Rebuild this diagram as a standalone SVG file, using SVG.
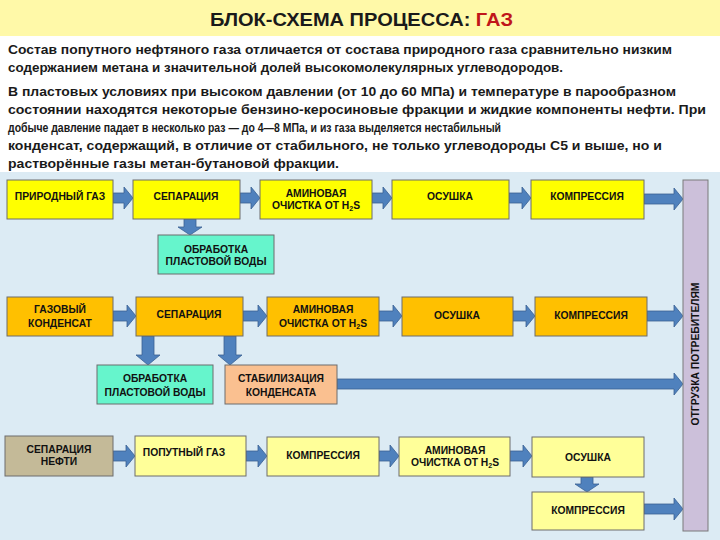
<svg xmlns="http://www.w3.org/2000/svg" width="720" height="540" viewBox="0 0 720 540">
<defs>
<style>
.bg-band{fill:#FFF9A8}
.para{font-family:"Liberation Sans",Arial,sans-serif;font-weight:bold;font-size:12.5px;fill:#1a1a1a}
.title{font-family:"Liberation Sans",Arial,sans-serif;font-weight:bold;font-size:19px;fill:#1a1a1a}
.box{stroke:#6d6d6d;stroke-width:1}
.y{fill:#FFFF00}
.o{fill:#FFC000}
.ly{fill:#FFFF99}
.t{fill:#66F5CC}
.p{fill:#FAC090}
.tan{fill:#C4BA98}
.bar{fill:#CCC0DA;stroke:#7a7a7a;stroke-width:1}
.lbl{font-family:"Liberation Sans",Arial,sans-serif;font-weight:bold;font-size:10.3px;fill:#111;text-anchor:middle}
.sub{font-size:7px}
.arr{fill:#4F81BD;stroke:#3A6193;stroke-width:0.8}
</style>
</defs>
<rect x="0" y="0" width="720" height="540" fill="#ffffff"/>
<rect class="bg-band" x="0" y="0" width="720" height="36"/>
<rect x="0" y="172" width="720" height="368" fill="#DCEBF4"/>
<text class="title" x="210" y="26" textLength="303" lengthAdjust="spacingAndGlyphs">БЛОК-СХЕМА ПРОЦЕССА: <tspan fill="#C0161A">ГАЗ</tspan></text>
<g id="text">
<text class="para" x="8" y="54" textLength="664" lengthAdjust="spacingAndGlyphs">Состав попутного нефтяного газа отличается от состава природного газа сравнительно низким</text>
<text class="para" x="8" y="72" textLength="555" lengthAdjust="spacingAndGlyphs">содержанием метана и значительной долей высокомолекулярных углеводородов.</text>
<text class="para" x="8" y="96" textLength="668" lengthAdjust="spacingAndGlyphs">В пластовых условиях при высоком давлении (от 10 до 60 МПа) и температуре в парообразном</text>
<text class="para" x="8" y="114" textLength="698" lengthAdjust="spacingAndGlyphs">состоянии находятся некоторые бензино-керосиновые  фракции и жидкие компоненты нефти. При</text>
<text class="para" x="8" y="132" textLength="493" lengthAdjust="spacingAndGlyphs">добыче давление падает в несколько раз — до 4—8 МПа, и из газа выделяется нестабильный</text>
<text class="para" x="8" y="150" textLength="654" lengthAdjust="spacingAndGlyphs">конденсат, содержащий, в отличие от стабильного, не только углеводороды С5 и выше, но и</text>
<text class="para" x="8" y="168" textLength="331" lengthAdjust="spacingAndGlyphs">растворённые газы метан-бутановой фракции.</text>
</g>
<g id="connectors">
<path class="arr" d="M113,193 H124 V187 L133,198 L124,209 V203 H113 Z"/>
<path class="arr" d="M240,193 H251 V187 L260,198 L251,209 V203 H240 Z"/>
<path class="arr" d="M372,193 H383 V187 L392,198 L383,209 V203 H372 Z"/>
<path class="arr" d="M509,193 H522 V187 L531,198 L522,209 V203 H509 Z"/>
<path class="arr" d="M644,194 H674 V188 L683,199 L674,210 V204 H644 Z"/>
<path class="arr" d="M184,219 V227 H178 L190,235 L202,227 H196 V219 Z"/>
<path class="arr" d="M113,311 H127 V305 L136,316 L127,327 V321 H113 Z"/>
<path class="arr" d="M243,311 H258 V305 L267,316 L258,327 V321 H243 Z"/>
<path class="arr" d="M379,311 H393 V305 L402,316 L393,327 V321 H379 Z"/>
<path class="arr" d="M513,311 H526 V305 L535,316 L526,327 V321 H513 Z"/>
<path class="arr" d="M647,311 H674 V305 L683,316 L674,327 V321 H647 Z"/>
<path class="arr" d="M142,336 V355 H136 L148,365 L160,355 H154 V336 Z"/>
<path class="arr" d="M224,336 V355 H218 L230,365 L242,355 H236 V336 Z"/>
<path class="arr" d="M337,379 H674 V373 L683,384 L674,395 V389 H337 Z"/>
<path class="arr" d="M113,451 H126 V445 L135,456 L126,467 V461 H113 Z"/>
<path class="arr" d="M246,451 H258 V445 L267,456 L258,467 V461 H246 Z"/>
<path class="arr" d="M379,451 H390 V445 L399,456 L390,467 V461 H379 Z"/>
<path class="arr" d="M510,451 H523 V445 L532,456 L523,467 V461 H510 Z"/>
<path class="arr" d="M581,477 V484 H575 L587,492 L599,484 H593 V477 Z"/>
<path class="arr" d="M644,504 H674 V498 L683,509 L674,520 V514 H644 Z"/>
</g>
<g id="n-prirodny">
<rect class="box y" x="7" y="180" width="106" height="39"/>
<text class="lbl" x="60" y="200">ПРИРОДНЫЙ ГАЗ</text>
</g>
<g id="n-separ1">
<rect class="box y" x="133" y="180" width="107" height="39"/>
<text class="lbl" x="186" y="200">СЕПАРАЦИЯ</text>
</g>
<g id="n-amine1">
<rect class="box y" x="260" y="180" width="112" height="39"/>
<text class="lbl" x="316" y="197">АМИНОВАЯ</text>
<text class="lbl" x="316" y="209">ОЧИСТКА ОТ H<tspan class="sub" dy="2">2</tspan><tspan dy="-2">S</tspan></text>
</g>
<g id="n-osushka1">
<rect class="box y" x="392" y="180" width="117" height="39"/>
<text class="lbl" x="450" y="200">ОСУШКА</text>
</g>
<g id="n-kompr1">
<rect class="box y" x="531" y="180" width="113" height="39"/>
<text class="lbl" x="587" y="200">КОМПРЕССИЯ</text>
</g>
<g id="n-voda1">
<rect class="box t" x="158" y="235" width="116" height="39"/>
<text class="lbl" x="216" y="253">ОБРАБОТКА</text>
<text class="lbl" x="216" y="265">ПЛАСТОВОЙ ВОДЫ</text>
</g>
<g id="n-kondensat">
<rect class="box o" x="7" y="297" width="106" height="39"/>
<text class="lbl" x="60" y="313">ГАЗОВЫЙ</text>
<text class="lbl" x="60" y="327">КОНДЕНСАТ</text>
</g>
<g id="n-separ2">
<rect class="box o" x="136" y="297" width="107" height="39"/>
<text class="lbl" x="189" y="318">СЕПАРАЦИЯ</text>
</g>
<g id="n-amine2">
<rect class="box o" x="267" y="297" width="112" height="39"/>
<text class="lbl" x="323" y="313">АМИНОВАЯ</text>
<text class="lbl" x="323" y="327">ОЧИСТКА ОТ H<tspan class="sub" dy="2">2</tspan><tspan dy="-2">S</tspan></text>
</g>
<g id="n-osushka2">
<rect class="box o" x="402" y="297" width="111" height="39"/>
<text class="lbl" x="457" y="319">ОСУШКА</text>
</g>
<g id="n-kompr2">
<rect class="box o" x="535" y="297" width="112" height="39"/>
<text class="lbl" x="591" y="319">КОМПРЕССИЯ</text>
</g>
<g id="n-voda2">
<rect class="box t" x="97" y="365" width="116" height="39"/>
<text class="lbl" x="155" y="382">ОБРАБОТКА</text>
<text class="lbl" x="155" y="396">ПЛАСТОВОЙ ВОДЫ</text>
</g>
<g id="n-stab">
<rect class="box p" x="225" y="365" width="112" height="39"/>
<text class="lbl" x="281" y="382">СТАБИЛИЗАЦИЯ</text>
<text class="lbl" x="281" y="396">КОНДЕНСАТА</text>
</g>
<g id="n-separ-nefti">
<rect class="box tan" x="5" y="436" width="108" height="40"/>
<text class="lbl" x="59" y="453">СЕПАРАЦИЯ</text>
<text class="lbl" x="59" y="465">НЕФТИ</text>
</g>
<g id="n-poputny">
<rect class="box ly" x="135" y="436" width="111" height="40"/>
<text class="lbl" x="184" y="456">ПОПУТНЫЙ ГАЗ</text>
</g>
<g id="n-kompr3a">
<rect class="box ly" x="267" y="437" width="112" height="39"/>
<text class="lbl" x="323" y="459">КОМПРЕССИЯ</text>
</g>
<g id="n-amine3">
<rect class="box ly" x="399" y="437" width="111" height="39"/>
<text class="lbl" x="455" y="454">АМИНОВАЯ</text>
<text class="lbl" x="455" y="466">ОЧИСТКА ОТ H<tspan class="sub" dy="2">2</tspan><tspan dy="-2">S</tspan></text>
</g>
<g id="n-osushka3">
<rect class="box ly" x="532" y="437" width="112" height="40"/>
<text class="lbl" x="588" y="461">ОСУШКА</text>
</g>
<g id="n-kompr3b">
<rect class="box ly" x="532" y="492" width="112" height="38"/>
<text class="lbl" x="588" y="514">КОМПРЕССИЯ</text>
</g>
<g id="n-otgruzka">
<rect class="bar" x="683" y="180" width="25" height="351"/>
<text class="lbl" transform="translate(699,354) rotate(-90)" x="0" y="0">ОТГРУЗКА ПОТРЕБИТЕЛЯМ</text>
</g>
</svg>
